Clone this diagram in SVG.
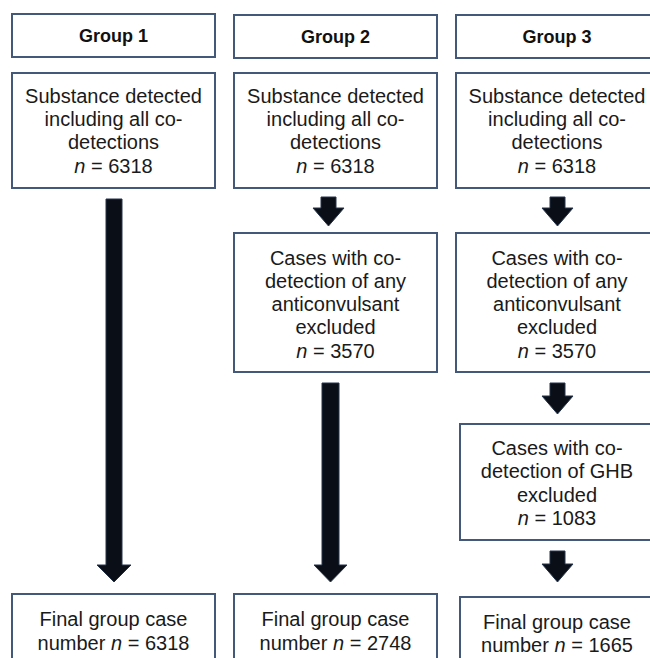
<svg xmlns="http://www.w3.org/2000/svg" width="650" height="658" viewBox="0 0 650 658">
<style>
.box{fill:#fff;stroke:#44597a;stroke-width:2}
.t{font-family:"Liberation Sans",Arial,sans-serif;font-size:20px;fill:#1a1a1a;text-anchor:middle}
.h{font-family:"Liberation Sans",Arial,sans-serif;font-size:18px;font-weight:bold;fill:#111;text-anchor:middle}
.arr{fill:#0a0e17;stroke:#26344a;stroke-width:1}
</style>
<rect width="650" height="658" fill="#fff"/>
<g id="connectors">
<polygon class="arr" points="106,199 122,199 122,565 131,565 114,582 97,565 106,565"/>
<polygon class="arr" points="321,197 336,197 336,208 344,208 328.5,226 313,208 321,208"/>
<polygon class="arr" points="322,383 339,383 339,565 347,565 330.5,582 314,565 322,565"/>
<polygon class="arr" points="550,197 565,197 565,208 573,208 557.5,226 542,208 550,208"/>
<polygon class="arr" points="550,383 565,383 565,396 573,396 557.5,414 542,396 550,396"/>
<polygon class="arr" points="550,551 565,551 565,564 573,564 557.5,582 542,564 550,564"/>
</g>
<g id="g1-title"><rect class="box" x="12" y="14" width="203" height="43"/><text class="h" x="113.5" y="42">Group 1</text></g>
<g id="g2-title"><rect class="box" x="234" y="15" width="203" height="43"/><text class="h" x="335.5" y="43">Group 2</text></g>
<g id="g3-title"><rect class="box" x="456" y="15" width="204" height="43"/><text class="h" x="557" y="43">Group 3</text></g>
<g id="g1-start"><rect class="box" x="12" y="73" width="203" height="115"/>
<text class="t" x="113.5"><tspan x="113.5" y="103">Substance detected</tspan><tspan x="113.5" y="126">including all co-</tspan><tspan x="113.5" y="149">detections</tspan><tspan x="113.5" y="173"><tspan font-style="italic">n</tspan> = 6318</tspan></text></g>
<g id="g2-start"><rect class="box" x="234" y="73" width="203" height="115"/>
<text class="t" x="335.5"><tspan x="335.5" y="103">Substance detected</tspan><tspan x="335.5" y="126">including all co-</tspan><tspan x="335.5" y="149">detections</tspan><tspan x="335.5" y="173"><tspan font-style="italic">n</tspan> = 6318</tspan></text></g>
<g id="g3-start"><rect class="box" x="456" y="73" width="204" height="115"/>
<text class="t" x="557"><tspan x="557" y="103">Substance detected</tspan><tspan x="557" y="126">including all co-</tspan><tspan x="557" y="149">detections</tspan><tspan x="557" y="173"><tspan font-style="italic">n</tspan> = 6318</tspan></text></g>
<g id="g2-anticonv"><rect class="box" x="234" y="233" width="203" height="139"/>
<text class="t" x="335.5"><tspan x="335.5" y="265">Cases with co-</tspan><tspan x="335.5" y="288">detection of any</tspan><tspan x="335.5" y="311">anticonvulsant</tspan><tspan x="335.5" y="334">excluded</tspan><tspan x="335.5" y="358"><tspan font-style="italic">n</tspan> = 3570</tspan></text></g>
<g id="g3-anticonv"><rect class="box" x="456" y="233" width="204" height="139"/>
<text class="t" x="557"><tspan x="557" y="265">Cases with co-</tspan><tspan x="557" y="288">detection of any</tspan><tspan x="557" y="311">anticonvulsant</tspan><tspan x="557" y="334">excluded</tspan><tspan x="557" y="358"><tspan font-style="italic">n</tspan> = 3570</tspan></text></g>
<g id="g3-ghb"><rect class="box" x="460" y="424" width="200" height="116"/>
<text class="t" x="557"><tspan x="557" y="455">Cases with co-</tspan><tspan x="557" y="478">detection of GHB</tspan><tspan x="557" y="502">excluded</tspan><tspan x="557" y="525"><tspan font-style="italic">n</tspan> = 1083</tspan></text></g>
<g id="g1-final"><rect class="box" x="12" y="594" width="203" height="80"/>
<text class="t" x="113.5"><tspan x="113.5" y="626">Final group case</tspan><tspan x="113.5" y="650">number <tspan font-style="italic">n</tspan> = 6318</tspan></text></g>
<g id="g2-final"><rect class="box" x="234" y="594" width="203" height="80"/>
<text class="t" x="335.5"><tspan x="335.5" y="626">Final group case</tspan><tspan x="335.5" y="650">number <tspan font-style="italic">n</tspan> = 2748</tspan></text></g>
<g id="g3-final"><rect class="box" x="460" y="597" width="200" height="80"/>
<text class="t" x="557"><tspan x="557" y="629">Final group case</tspan><tspan x="557" y="652">number <tspan font-style="italic">n</tspan> = 1665</tspan></text></g>
</svg>
